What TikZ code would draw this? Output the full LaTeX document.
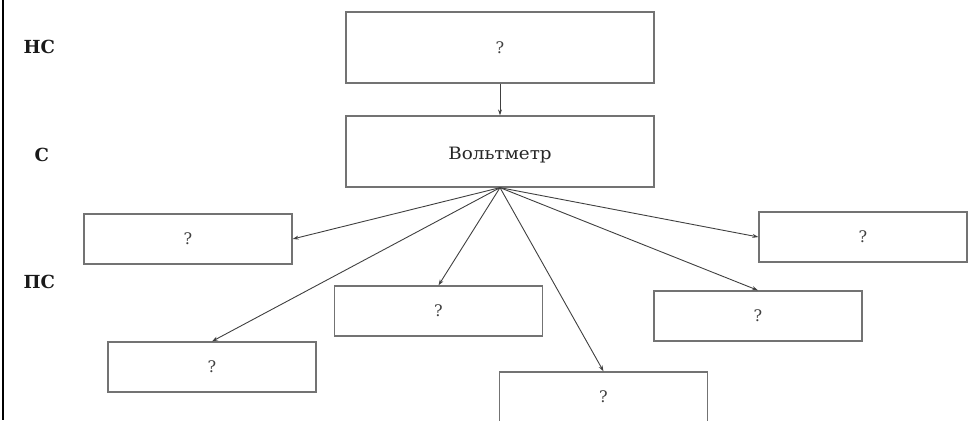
\documentclass[tikz,border=0pt]{standalone}
\usepackage{fontspec}
\setmainfont{DejaVu Serif}
\usetikzlibrary{arrows.meta}
\tikzset{
  block/.style={draw=black!55, line width=1.3pt, minimum width=208pt, minimum height=50pt,
    inner sep=0pt, font=\fontsize{16}{18}\selectfont, text=black!75},
  bigblock/.style={block, minimum width=308pt, minimum height=71pt},
  level/.style={font=\bfseries\fontsize{18}{20}\selectfont, text=black!90, anchor=west},
  link/.style={draw=black!75, line width=0.9pt, -{Stealth[length=6pt,width=4pt]}}
}
\begin{document}
\begin{tikzpicture}[x=1pt,y=-1pt]
  \useasboundingbox (0,0) rectangle (971,420);
  \clip (0,0) rectangle (971,420);
  % frame line on the left
  \draw[line width=2.2pt] (3,0) -- (3,420);
  % level labels
  \node[level] (lnc) at (20,47) {НС};
  \node[level] (lc)  at (31,155) {С};
  \node[level] (lpc) at (20,282) {ПС};
  % system blocks
  \node[bigblock] (top)  at (500,47.5)  {?};
  \node[bigblock] (volt) at (500,151.5) {};
  \node[font=\fontsize{17}{19}\selectfont, text=black!85] (volttxt) at (500,155)
    {\scalebox{1.08}[1]{Вольтметр}};
  \node[block] (l1) at (188,239)   {?};
  \node[block] (r1) at (863,237)   {?};
  \node[block] (m1) at (438.5,311) {?};
  \node[block] (m2) at (758,316)   {?};
  \node[block] (b1) at (212,367)   {?};
  \node[block, minimum height=56pt] (b2) at (603.5,400) {};
  \node[font=\fontsize{16}{18}\selectfont, text=black!75] (b2q) at (603.5,397) {?};
  % connectors
  \draw[link] (top.south) -- (volt.north);
  \draw[link] (volt.south) -- (l1.east);
  \draw[link] (volt.south) -- (r1.west);
  \draw[link] (volt.south) -- (m1.north);
  \draw[link] (volt.south) -- (m2.north);
  \draw[link] (volt.south) -- (b1.north);
  \draw[link] (volt.south) -- (b2.north);
\end{tikzpicture}
\end{document}
